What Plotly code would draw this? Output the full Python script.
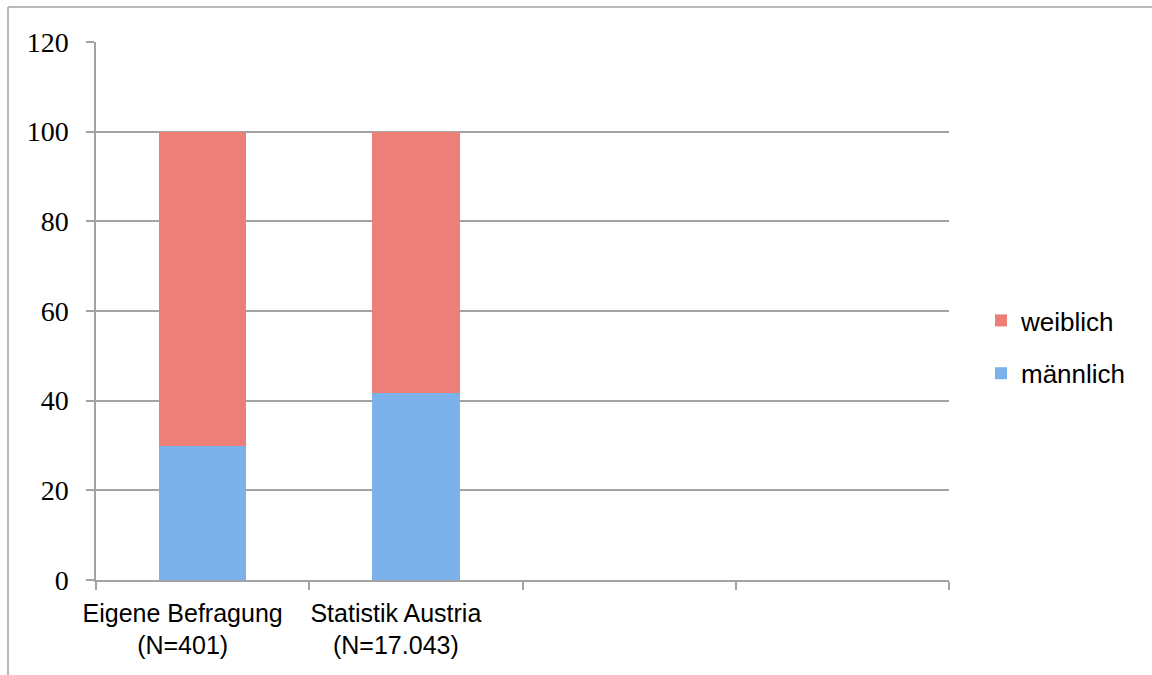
import plotly.graph_objects as go

categories = ["Eigene Befragung<br>(N=401)", "Statistik Austria<br>(N=17.043)", " ", "  "]
bar_categories = categories[:2]
maennlich = [30, 41.8]
weiblich = [70, 58.2]
y_ticks = [0, 20, 40, 60, 80, 100, 120]

GRID = "#A3A3A3"
L, R, T, B = 96, 203, 42, 95
W, H = 1152, 675
PW, PH = W - L - R, H - T - B


def px_x(px):
    return (px - L) / PW


def px_y(py):
    return (H - B - py) / PH


fig = go.Figure()
fig.add_trace(go.Bar(
    name="männlich", x=bar_categories, y=maennlich,
    marker=dict(color="#7DB1EB", line=dict(width=0)),
    width=0.41, legendgroup="m", legendrank=2,
))
fig.add_trace(go.Bar(
    name="weiblich", x=bar_categories, y=weiblich,
    marker=dict(color="#EC7F78", line=dict(width=0)),
    width=0.41, legendgroup="w", legendrank=1,
))

fig.update_layout(
    width=W, height=H,
    barmode="stack",
    margin=dict(l=L, r=R, t=T, b=B),
    paper_bgcolor="white", plot_bgcolor="white",
    font=dict(family="Liberation Sans, Arial, sans-serif", color="black", size=25),
    legend=dict(
        x=px_x(981), y=px_y(347), xanchor="left", yanchor="middle",
        traceorder="grouped", tracegroupgap=16,
        font=dict(size=26, family="Liberation Sans, Arial, sans-serif"),
        bgcolor="rgba(0,0,0,0)", itemwidth=30,
    ),
    xaxis=dict(
        type="category", categoryorder="array", categoryarray=categories,
        range=[-0.5, 3.5], tickson="boundaries", ticks="outside", ticklen=8,
        tickcolor=GRID, tickwidth=1.5, showgrid=False, showline=True,
        linecolor=GRID, linewidth=1.5, tickfont=dict(size=25),
        ticklabelstandoff=10, ticklabelshift=-20,
    ),
    yaxis=dict(
        range=[0, 120], tickvals=y_ticks, showgrid=True, gridcolor=GRID,
        gridwidth=1.5, showline=True, linecolor=GRID, linewidth=1.5,
        ticks="outside", ticklen=8, tickcolor=GRID, tickwidth=1.5,
        zeroline=False,
        tickfont=dict(family="Liberation Serif, Times New Roman, serif", size=28),
        ticklabelstandoff=12,
    ),
    shapes=[
        dict(type="line", xref="paper", yref="paper",
             x0=px_x(8), y0=px_y(7), x1=px_x(1152), y1=px_y(7),
             line=dict(color=GRID, width=1.5)),
        dict(type="line", xref="paper", yref="paper",
             x0=px_x(8), y0=px_y(7), x1=px_x(8), y1=px_y(675),
             line=dict(color=GRID, width=1.5)),
    ],
)

fig.write_html("out.html")
